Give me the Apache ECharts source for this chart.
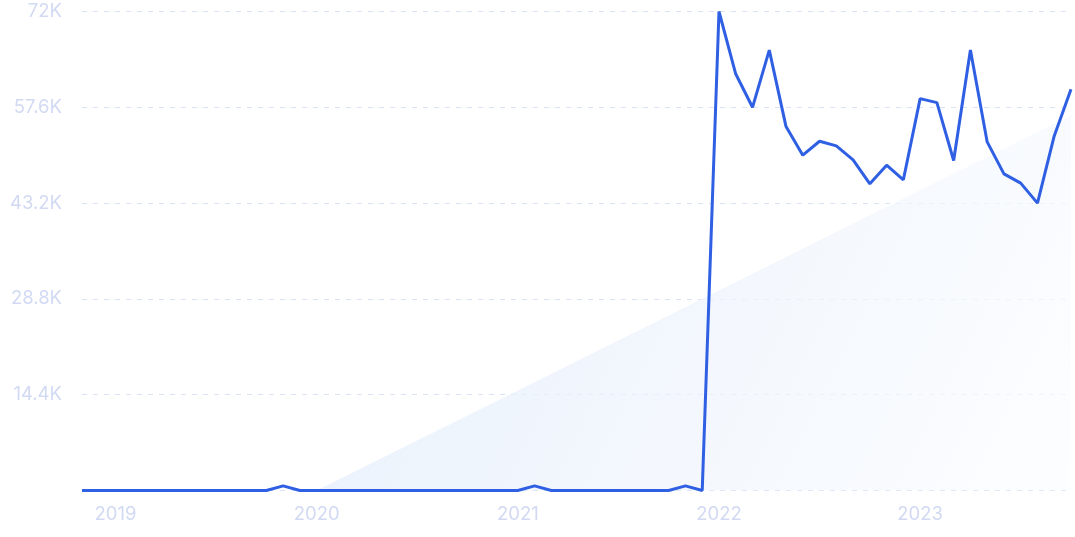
<!DOCTYPE html>
<html>
<head>
<meta charset="utf-8">
<script src="https://cdn.jsdelivr.net/npm/echarts@6/dist/echarts.min.js"></script>
<style>html,body{margin:0;padding:0;background:#fff;}#c{width:1075px;height:537px;}</style>
</head>
<body>
<div id="c"></div>
<script>
const months = [
  '2018-11','2018-12',
  '2019-01','2019-02','2019-03','2019-04','2019-05','2019-06','2019-07','2019-08','2019-09','2019-10','2019-11','2019-12',
  '2020-01','2020-02','2020-03','2020-04','2020-05','2020-06','2020-07','2020-08','2020-09','2020-10','2020-11','2020-12',
  '2021-01','2021-02','2021-03','2021-04','2021-05','2021-06','2021-07','2021-08','2021-09','2021-10','2021-11','2021-12',
  '2022-01','2022-02','2022-03','2022-04','2022-05','2022-06','2022-07','2022-08','2022-09','2022-10','2022-11','2022-12',
  '2023-01','2023-02','2023-03','2023-04','2023-05','2023-06','2023-07','2023-08','2023-09','2023-10'
];
const searches = [
  0, 0,
  0, 0, 0, 0, 0, 0, 0, 0, 0, 0, 700, 0,
  0, 0, 0, 0, 0, 0, 0, 0, 0, 0, 0, 0,
  0, 700, 0, 0, 0, 0, 0, 0, 0, 0, 700, 0,
  72000, 62600, 57600, 66200, 54700, 50400, 52500, 51800, 49700, 46100, 48900, 46700,
  58900, 58300, 49600, 66200, 52400, 47600, 46200, 43200, 53300, 60300
];
const trendStart = { month: '2020-01', value: 0 };
const trendEnd = { month: '2023-10', value: 56400 };
const yTicks = { min: 0, max: 72000, step: 14400 };

const trend = months.map(m => m === trendStart.month ? trendStart.value : (m === trendEnd.month ? trendEnd.value : null));

const chart = echarts.init(document.getElementById('c'));
chart.setOption({
  backgroundColor: '#ffffff',
  animation: false,
  grid: { left: 82, right: 4, top: 11.5, bottom: 46.5, containLabel: false },
  xAxis: {
    type: 'category',
    data: months,
    boundaryGap: false,
    axisLine: { show: false },
    axisTick: { show: false },
    splitLine: { show: false },
    axisLabel: {
      interval: (i, v) => v.endsWith('-01'),
      formatter: v => v.slice(0, 4),
      color: '#d2daf3',
      fontSize: 18.5,
      fontFamily: 'Inter',
      margin: 14
    }
  },
  yAxis: {
    type: 'value',
    min: yTicks.min,
    max: yTicks.max,
    interval: yTicks.step,
    axisLine: { show: false },
    axisTick: { show: false },
    axisLabel: {
      formatter: v => v === 0 ? '' : (Math.round(v / 100) / 10) + 'K',
      color: '#d2daf3',
      fontSize: 18.5,
      fontFamily: 'Inter',
      margin: 20
    },
    splitLine: { show: true, lineStyle: { color: '#dae4f6', type: [5, 6], width: 1 } }
  },
  series: [
    {
      type: 'line',
      data: trend,
      connectNulls: true,
      symbol: 'none',
      lineStyle: { width: 0, opacity: 0 },
      areaStyle: {
        color: new echarts.graphic.LinearGradient(0, 0, 1, 1, [
          { offset: 0, color: '#dfeafa' },
          { offset: 1, color: '#fbfdff' }
        ])
      },
      z: 1,
      silent: true
    },
    {
      type: 'line',
      data: searches,
      symbol: 'none',
      smooth: false,
      lineStyle: { color: '#2f5fe3', width: 3 },
      z: 3
    }
  ]
});
</script>
</body>
</html>
